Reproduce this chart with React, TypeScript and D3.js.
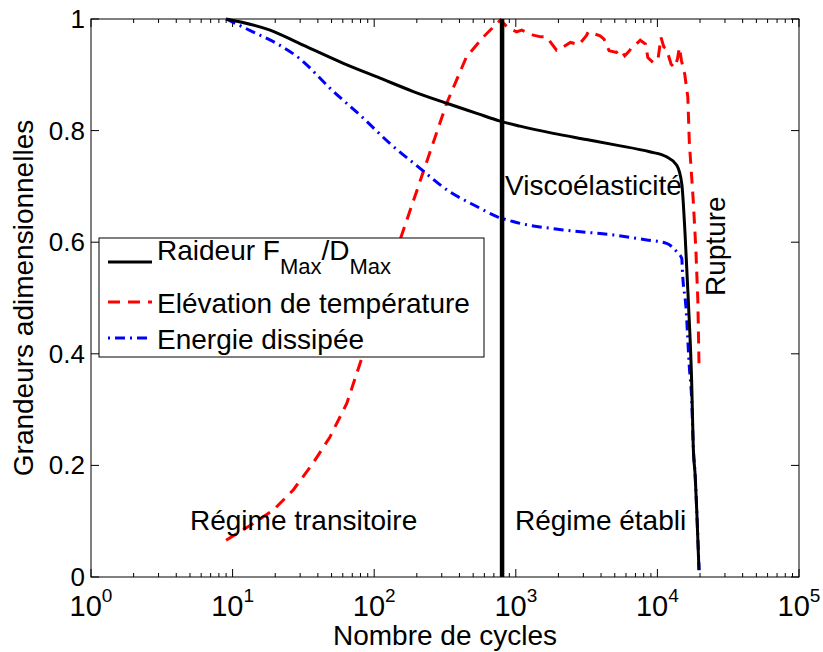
import React from "react";
import * as d3 from "d3";

// Stiffness F_Max/D_Max (normalised)
const raideurCycles = [9, 18.4, 29.8, 60, 110, 189, 325, 530, 775, 1070, 1840, 3150, 5130, 8820, 11600, 13700, 14860, 15670, 16530, 17470, 17920, 18500, 19000, 19660];
const raideurValues = [1.0, 0.98, 0.956, 0.921, 0.894, 0.87, 0.849, 0.831, 0.817, 0.808, 0.795, 0.784, 0.774, 0.762, 0.753, 0.738, 0.705, 0.616, 0.496, 0.347, 0.233, 0.18, 0.114, 0.0125];

// Temperature rise (normalised)
const tempCycles = [9, 14, 19.4, 26.8, 37, 48.7, 64, 81, 100, 120, 156, 220, 325, 448, 591, 735, 780, 866, 1010, 1100, 1330, 1500, 1650, 1790, 1940, 2040, 2430, 2790, 3150, 3250, 3940, 4200, 4560, 5130, 5500, 5880, 6300, 6590, 7100, 7570, 8240, 8560, 9330, 10100, 10600, 11100, 11600, 12500, 13200, 13850, 14300, 14800, 15600, 16400, 16800, 17900, 18700, 19300, 19670];
const tempValues = [0.066, 0.096, 0.12, 0.156, 0.204, 0.251, 0.311, 0.389, 0.455, 0.53, 0.612, 0.723, 0.849, 0.932, 0.968, 0.992, 0.998, 0.986, 0.977, 0.98, 0.971, 0.968, 0.968, 0.956, 0.944, 0.946, 0.958, 0.954, 0.97, 0.977, 0.97, 0.964, 0.943, 0.94, 0.945, 0.934, 0.942, 0.949, 0.955, 0.962, 0.955, 0.931, 0.922, 0.928, 0.967, 0.95, 0.946, 0.919, 0.913, 0.928, 0.949, 0.925, 0.901, 0.86, 0.78, 0.676, 0.586, 0.496, 0.383];

// Dissipated energy (normalised)
const energieCycles = [9, 13.9, 20.5, 29.8, 48.7, 84, 129, 198, 343, 530, 735, 955, 2160, 4890, 8420, 11600, 13700, 14860, 15050, 15900, 16800, 17470, 17920, 18500, 19000, 19700];
const energieValues = [1.0, 0.977, 0.956, 0.929, 0.876, 0.822, 0.777, 0.738, 0.69, 0.664, 0.646, 0.637, 0.622, 0.613, 0.604, 0.598, 0.583, 0.571, 0.544, 0.484, 0.377, 0.317, 0.233, 0.18, 0.114, 0.012];

// Boundary between transient and established regimes
const regimeBoundary = 800;

const xDecades = [0, 1, 2, 3, 4, 5];
const yTicks = [0, 0.2, 0.4, 0.6, 0.8, 1];
const yTickLabels = ["0", "0.2", "0.4", "0.6", "0.8", "1"];

const FONT = "'Liberation Sans', Arial, Helvetica, sans-serif";

export default function App() {
  const width = 823;
  const height = 652;
  const left = 91, right = 799, top = 19, bottom = 577;

  const x = d3.scaleLog().domain([1, 1e5]).range([left, right]);
  const y = d3.scaleLinear().domain([0, 1]).range([bottom, top]);

  const smooth = d3
    .line<[number, number]>()
    .x((d) => x(d[0]))
    .y((d) => y(d[1]))
    .curve(d3.curveMonotoneX);
  const jagged = d3
    .line<[number, number]>()
    .x((d) => x(d[0]))
    .y((d) => y(d[1]));

  const zip = (a: number[], b: number[]) => a.map((v, i) => [v, b[i]] as [number, number]);

  const minorTicks: number[] = [];
  for (let k = 0; k < 5; k++) for (let m = 2; m <= 9; m++) minorTicks.push(m * Math.pow(10, k));

  const majorLen = 8;
  const minorLen = 4;

  return (
    <svg
      width={width}
      height={height}
      style={{ position: "absolute", left: 0, top: 0, background: "#fff" }}
      fontFamily={FONT}
    >
      <rect x={0} y={0} width={width} height={height} fill="#fff" />

      {/* ticks */}
      <g stroke="#000" strokeWidth={1}>
        {xDecades.map((k) => {
          const px = x(Math.pow(10, k));
          return (
            <g key={"xm" + k}>
              <line x1={px} x2={px} y1={bottom} y2={bottom - majorLen} />
              <line x1={px} x2={px} y1={top} y2={top + majorLen} />
            </g>
          );
        })}
        {minorTicks.map((t) => {
          const px = x(t);
          return (
            <g key={"xn" + t}>
              <line x1={px} x2={px} y1={bottom} y2={bottom - minorLen} />
              <line x1={px} x2={px} y1={top} y2={top + minorLen} />
            </g>
          );
        })}
        {yTicks.map((t) => (
          <g key={"y" + t}>
            <line x1={left} x2={left + majorLen} y1={y(t)} y2={y(t)} />
            <line x1={right} x2={right - majorLen} y1={y(t)} y2={y(t)} />
          </g>
        ))}
      </g>

      {/* series */}
      <path d={jagged(zip(tempCycles, tempValues)) || ""} fill="none" stroke="#ff0000" strokeWidth={3} strokeDasharray="12,8" />
      <path d={smooth(zip(energieCycles, energieValues)) || ""} fill="none" stroke="#0000ff" strokeWidth={3} strokeDasharray="10,5,2,5" />
      <path d={smooth(zip(raideurCycles, raideurValues)) || ""} fill="none" stroke="#000" strokeWidth={3} />

      {/* regime boundary */}
      <line x1={x(regimeBoundary)} x2={x(regimeBoundary)} y1={top} y2={bottom} stroke="#000" strokeWidth={4.5} />

      {/* axes box */}
      <rect x={left} y={top} width={right - left} height={bottom - top} fill="none" stroke="#000" strokeWidth={1} />

      {/* tick labels */}
      {yTicks.map((t, i) => (
        <text key={"yl" + t} x={85} y={y(t) + 9} textAnchor="end" fontSize={26} fill="#000">
          {yTickLabels[i]}
        </text>
      ))}
      {xDecades.map((k) => (
        <text key={"xl" + k} x={x(Math.pow(10, k))} y={616} textAnchor="middle" fontSize={29} fill="#000">
          10
          <tspan dy={-14} fontSize={19}>
            {k}
          </tspan>
        </text>
      ))}

      {/* axis titles */}
      <text x={445} y={645} textAnchor="middle" fontSize={28} fill="#000">
        Nombre de cycles
      </text>
      <text transform="translate(33,298) rotate(-90)" textAnchor="middle" fontSize={28} fill="#000">
        Grandeurs adimensionnelles
      </text>

      {/* annotations */}
      <text x={505} y={195} fontSize={28} fill="#000">Viscoélasticité</text>
      <text x={190} y={530} fontSize={28} fill="#000">Régime transitoire</text>
      <text x={515} y={530} fontSize={28} fill="#000">Régime établi</text>
      <text transform="translate(725,296) rotate(-90)" fontSize={28} fill="#000">Rupture</text>

      {/* legend */}
      <g>
        <rect x={99} y={238} width={385} height={119} fill="#fff" stroke="#000" strokeWidth={1} />
        <line x1={108} x2={152} y1={262} y2={262} stroke="#000" strokeWidth={3} />
        <text x={157} y={260} fontSize={28} fill="#000">
          Raideur F
          <tspan dy={14} fontSize={22}>Max</tspan>
          <tspan dy={-14}>/D</tspan>
          <tspan dy={14} fontSize={22}>Max</tspan>
        </text>
        <line x1={108} x2={152} y1={302} y2={302} stroke="#ff0000" strokeWidth={3} strokeDasharray="12,8" />
        <text x={157} y={313} fontSize={28} fill="#000">Elévation de température</text>
        <line x1={108} x2={152} y1={338} y2={338} stroke="#0000ff" strokeWidth={3} strokeDasharray="2,5,10,5" />
        <text x={157} y={349} fontSize={28} fill="#000">Energie dissipée</text>
      </g>
    </svg>
  );
}
